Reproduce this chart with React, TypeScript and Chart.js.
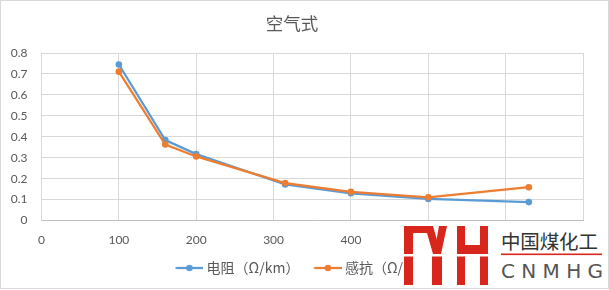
import React, { useEffect, useRef } from "react";
import { Chart, registerables } from "chart.js";
Chart.register(...registerables);

const chartTitle = "空气式";
const crossSections = [100, 160, 200, 315, 400, 500, 630];
const resistance = [0.745, 0.384, 0.317, 0.172, 0.13, 0.103, 0.088];
const reactance = [0.711, 0.363, 0.306, 0.179, 0.137, 0.111, 0.159];
const seriesNames = ["电阻（Ω/km）", "感抗（Ω/km）"];
const seriesColors = ["#5b9bd5", "#ed7d31"];
const xRange = [0, 700];
const xStep = 100;
const yRange = [0, 0.8];
const yStep = 0.1;

const FONT = "Lato, 'Noto Sans CJK SC', sans-serif";
const CJK = "'Noto Sans CJK SC', Lato, sans-serif";

const LEGEND_BOX = 28.6;

// legend icon: transparent spacer on the left, line + marker on the right
function legendIcon(color: string): HTMLCanvasElement {
  const c = document.createElement("canvas");
  const w = 36;
  c.width = w;
  c.height = 10;
  const ctx = c.getContext("2d")!;
  const x1 = w;
  const x0 = w - 27.7;
  ctx.strokeStyle = color;
  ctx.lineWidth = 2.25;
  ctx.beginPath();
  ctx.moveTo(x0, 5);
  ctx.lineTo(x1, 5);
  ctx.stroke();
  ctx.fillStyle = color;
  ctx.beginPath();
  ctx.arc((x0 + x1) / 2, 5, 3.2, 0, Math.PI * 2);
  ctx.fill();
  return c;
}

const legendShift = {
  id: "legendShift",
  afterLayout(chart: any) {
    if (chart.legend) {
      chart.legend.left += 12.4;
      chart.legend.right += 12.4;
    }
  },
};

export default function App() {
  const ref = useRef<HTMLCanvasElement>(null);
  useEffect(() => {
    if (!ref.current) return;
    const icons = seriesColors.map(legendIcon);
    const makeData = (vals: number[]) => crossSections.map((x, i) => ({ x, y: vals[i] }));
    const chart = new Chart(ref.current, {
      type: "scatter",
      data: {
        datasets: [
          {
            label: seriesNames[0],
            data: makeData(resistance),
            showLine: true,
            borderColor: seriesColors[0],
            backgroundColor: seriesColors[0],
            borderWidth: 2.25,
            pointRadius: 3.3,
            pointBorderWidth: 0,
            order: 1,
          },
          {
            label: seriesNames[1],
            data: makeData(reactance),
            showLine: true,
            borderColor: seriesColors[1],
            backgroundColor: seriesColors[1],
            borderWidth: 2.25,
            pointRadius: 3.3,
            pointBorderWidth: 0,
            order: 0,
          },
        ],
      },
      plugins: [legendShift],
      options: {
        animation: false,
        responsive: false,
        layout: { padding: { left: 0, right: 25, top: 0, bottom: 3 } },
        plugins: {
          tooltip: { enabled: false },
          title: {
            display: true,
            text: chartTitle,
            color: "#595959",
            font: { family: CJK, size: 17.5, weight: "normal" },
            padding: { top: 11.5, bottom: 19.5 },
          },
          legend: {
            position: "bottom",
            labels: {
              usePointStyle: true,
              pointStyleWidth: LEGEND_BOX,
              padding: 10,
              color: "#595959",
              font: { family: CJK, size: 14 },
              generateLabels: (ch: any) =>
                ch.data.datasets.map((ds: any, i: number) => ({
                  text: ds.label,
                  fillStyle: seriesColors[i],
                  strokeStyle: seriesColors[i],
                  lineWidth: 0,
                  pointStyle: icons[i],
                  hidden: false,
                  datasetIndex: i,
                  fontColor: "#595959",
                })),
            },
          },
        },
        scales: {
          x: {
            type: "linear",
            min: xRange[0],
            max: xRange[1],
            ticks: { stepSize: xStep, color: "#595959", font: { family: FONT, size: 12 }, padding: 12 },
            grid: { color: "#d9d9d9", drawTicks: false },
            border: { color: "#bfbfbf" },
            afterFit: (s: any) => {
              s.height = 30.5;
            },
          },
          y: {
            min: yRange[0],
            max: yRange[1],
            ticks: { stepSize: yStep, color: "#595959", font: { family: FONT, size: 12 }, padding: 14 },
            grid: { color: "#d9d9d9", drawTicks: false },
            border: { color: "#d9d9d9" },
            afterFit: (s: any) => {
              s.width = 40.5;
            },
          },
        },
      },
    } as any);
    return () => chart.destroy();
  }, []);

  const red = "#d9261c";
  return (
    <div style={{ position: "fixed", left: 0, top: 0, width: 609, height: 290, background: "#fff" }}>
      <div
        style={{
          position: "absolute",
          left: 0,
          top: 0,
          width: 609,
          height: 289,
          border: "1px solid #d9d9d9",
          boxSizing: "border-box",
        }}
      />
      <canvas ref={ref} width={607} height={287} style={{ position: "absolute", left: 1, top: 1, width: 607, height: 287 }} />
      <svg width={609} height={290} style={{ position: "absolute", left: 0, top: 0, pointerEvents: "none" }}>
        <rect x={404} y={223} width={203} height={65} fill="#fff" />
        <g fill={red}>
          <rect x={404} y={226} width={9} height={59} />
          <rect x={404} y={226} width={23} height={7} />
          <polygon points="425,226 433,226 441,254 433,254" />
          <polygon points="439,226 447,226 441,254 434,254" />
          <rect x={432} y={254} width={10} height={31} />
          <rect x={457} y={226} width={8} height={59} />
          <rect x={480} y={226} width={8} height={59} />
          <rect x={457} y={245} width={31} height={9} />
        </g>
        <rect x={404} y={254} width={85} height={2.5} fill="#fff" />
        <text x={501} y={249} fontFamily={CJK} fontSize={19.5} fill="#333" textLength={97} lengthAdjust="spacing">
          中国煤化工
        </text>
        <rect x={501} y={253.5} width={101} height={1.6} fill={red} />
        <text x={501} y={278} fontFamily="'DejaVu Sans', sans-serif" fontSize={20} fill="#555" textLength={102} lengthAdjust="spacing">
          CNMHG
        </text>
      </svg>
    </div>
  );
}
